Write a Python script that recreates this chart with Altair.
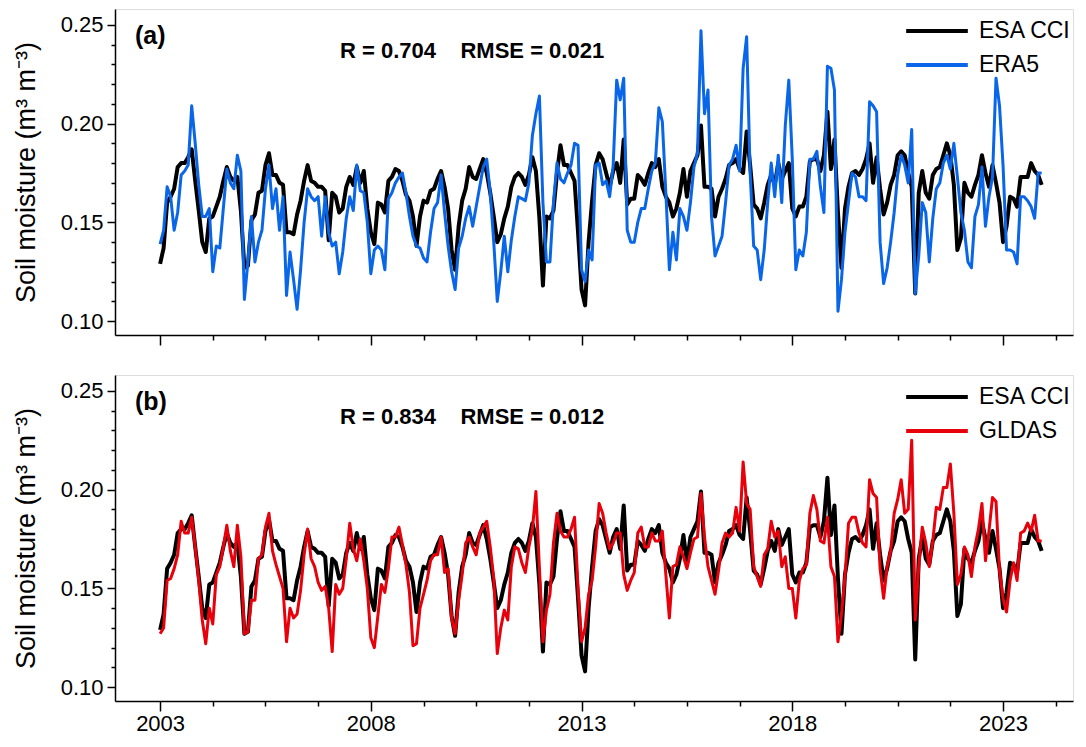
import altair as alt
import pandas as pd

# Monthly series, Jan 2003 - Dec 2023 (m3 m-3)
esa_cci = [0.129,0.137,0.160,0.163,0.167,0.178,0.180,0.180,0.183,0.187,0.171,0.156,
0.140,0.135,0.152,0.153,0.158,0.163,0.171,0.178,0.173,0.171,0.173,0.156,
0.127,0.128,0.151,0.154,0.165,0.166,0.179,0.185,0.174,0.174,0.170,0.169,
0.145,0.145,0.144,0.154,0.161,0.171,0.179,0.171,0.170,0.168,0.168,0.166,
0.141,0.165,0.163,0.155,0.157,0.168,0.173,0.169,0.178,0.170,0.176,0.157,
0.145,0.139,0.160,0.159,0.155,0.171,0.173,0.177,0.176,0.171,0.164,0.161,
0.153,0.138,0.153,0.161,0.160,0.166,0.167,0.172,0.176,0.168,0.157,0.136,
0.126,0.148,0.161,0.167,0.178,0.173,0.172,0.177,0.182,0.175,0.165,0.153,
0.140,0.144,0.152,0.158,0.168,0.173,0.175,0.173,0.169,0.174,0.183,0.176,
0.152,0.118,0.153,0.152,0.156,0.175,0.189,0.179,0.179,0.175,0.171,0.145,
0.116,0.108,0.140,0.161,0.179,0.185,0.182,0.175,0.168,0.176,0.180,0.170,
0.192,0.159,0.162,0.162,0.174,0.172,0.169,0.175,0.180,0.178,0.182,0.168,
0.163,0.160,0.153,0.157,0.165,0.177,0.163,0.176,0.180,0.184,0.199,0.168,
0.168,0.167,0.153,0.163,0.167,0.172,0.179,0.180,0.182,0.177,0.175,0.196,
0.179,0.159,0.157,0.152,0.160,0.169,0.174,0.169,0.180,0.172,0.176,0.180,
0.157,0.153,0.158,0.158,0.163,0.181,0.182,0.182,0.176,0.184,0.206,0.177,
0.192,0.155,0.127,0.157,0.168,0.175,0.176,0.174,0.177,0.182,0.190,0.170,
0.183,0.167,0.154,0.160,0.169,0.174,0.184,0.186,0.184,0.175,0.168,0.114,
0.165,0.176,0.165,0.162,0.174,0.177,0.178,0.184,0.190,0.184,0.169,0.136,
0.142,0.170,0.165,0.163,0.169,0.174,0.184,0.175,0.168,0.179,0.170,0.160,
0.140,0.148,0.163,0.162,0.158,0.173,0.173,0.173,0.180,0.176,0.174,0.169]

era5 = [0.139,0.146,0.168,0.163,0.146,0.155,0.174,0.176,0.179,0.209,0.190,0.169,
0.153,0.153,0.157,0.125,0.138,0.137,0.157,0.177,0.170,0.167,0.184,0.176,
0.111,0.130,0.153,0.130,0.140,0.146,0.167,0.179,0.157,0.167,0.146,0.163,
0.113,0.135,0.121,0.106,0.126,0.150,0.167,0.163,0.161,0.163,0.143,0.163,
0.145,0.138,0.140,0.124,0.135,0.152,0.163,0.156,0.179,0.166,0.165,0.150,
0.124,0.136,0.138,0.136,0.126,0.162,0.165,0.170,0.173,0.175,0.165,0.153,
0.143,0.138,0.137,0.132,0.130,0.145,0.157,0.160,0.174,0.155,0.138,0.125,
0.116,0.137,0.143,0.152,0.158,0.148,0.158,0.168,0.178,0.182,0.165,0.140,
0.110,0.125,0.143,0.125,0.141,0.153,0.163,0.162,0.161,0.170,0.194,0.205,
0.214,0.160,0.130,0.130,0.160,0.180,0.172,0.170,0.175,0.179,0.190,0.189,
0.126,0.120,0.136,0.131,0.179,0.180,0.169,0.171,0.163,0.179,0.222,0.212,
0.223,0.146,0.140,0.140,0.150,0.157,0.157,0.167,0.176,0.180,0.208,0.201,
0.165,0.126,0.145,0.131,0.157,0.153,0.146,0.160,0.178,0.185,0.247,0.205,
0.217,0.153,0.133,0.138,0.143,0.160,0.179,0.182,0.189,0.176,0.228,0.244,
0.175,0.138,0.136,0.121,0.136,0.160,0.180,0.163,0.184,0.160,0.199,0.222,
0.182,0.126,0.136,0.133,0.145,0.182,0.182,0.186,0.168,0.155,0.229,0.228,
0.217,0.105,0.121,0.145,0.160,0.175,0.173,0.163,0.163,0.161,0.211,0.209,
0.206,0.140,0.119,0.127,0.140,0.155,0.174,0.184,0.179,0.170,0.197,0.114,
0.133,0.160,0.155,0.130,0.152,0.167,0.170,0.180,0.184,0.177,0.190,0.173,
0.155,0.146,0.130,0.127,0.153,0.159,0.178,0.148,0.163,0.173,0.223,0.209,
0.179,0.136,0.136,0.135,0.129,0.163,0.163,0.161,0.158,0.152,0.175,0.175]

gldas = [0.127,0.130,0.154,0.155,0.160,0.167,0.184,0.178,0.178,0.186,0.171,0.154,
0.134,0.122,0.140,0.132,0.157,0.161,0.171,0.182,0.169,0.161,0.182,0.166,
0.127,0.128,0.144,0.144,0.165,0.167,0.181,0.188,0.169,0.162,0.156,0.150,
0.123,0.140,0.135,0.137,0.149,0.167,0.180,0.165,0.161,0.153,0.149,0.151,
0.140,0.118,0.152,0.147,0.150,0.165,0.183,0.170,0.164,0.175,0.164,0.150,
0.125,0.120,0.136,0.152,0.148,0.160,0.176,0.176,0.181,0.172,0.162,0.148,
0.121,0.122,0.140,0.147,0.154,0.164,0.167,0.167,0.176,0.158,0.160,0.135,
0.127,0.144,0.157,0.173,0.176,0.171,0.167,0.178,0.181,0.184,0.171,0.155,
0.117,0.130,0.139,0.134,0.161,0.171,0.170,0.163,0.158,0.171,0.180,0.199,
0.160,0.123,0.139,0.147,0.173,0.188,0.179,0.176,0.176,0.180,0.186,0.150,
0.123,0.130,0.147,0.154,0.171,0.193,0.188,0.178,0.170,0.173,0.178,0.178,
0.157,0.149,0.154,0.158,0.178,0.181,0.171,0.171,0.178,0.174,0.174,0.179,
0.157,0.135,0.161,0.162,0.171,0.166,0.160,0.168,0.175,0.176,0.198,0.176,
0.161,0.154,0.147,0.159,0.173,0.178,0.176,0.178,0.191,0.179,0.214,0.193,
0.190,0.161,0.156,0.151,0.167,0.170,0.184,0.176,0.179,0.161,0.166,0.150,
0.150,0.135,0.154,0.160,0.162,0.188,0.197,0.190,0.174,0.173,0.186,0.161,
0.156,0.123,0.137,0.156,0.183,0.186,0.186,0.178,0.173,0.171,0.205,0.198,
0.196,0.160,0.145,0.161,0.169,0.188,0.195,0.205,0.188,0.190,0.225,0.134,
0.161,0.181,0.173,0.161,0.174,0.191,0.190,0.201,0.201,0.213,0.188,0.152,
0.157,0.171,0.167,0.156,0.171,0.180,0.193,0.164,0.179,0.196,0.194,0.159,
0.145,0.138,0.154,0.163,0.154,0.178,0.179,0.183,0.179,0.187,0.174,0.174]

start_year = 2003
NB = "\u00a0"
stats_a = "R = 0.704" + NB * 4 + "RMSE = 0.021"
stats_b = "R = 0.834" + NB * 4 + "RMSE = 0.012"
x_tick_values = [2003 + 1.25 * k for k in range(18)]
y_tick_values = [round(0.10 + 0.01 * k, 2) for k in range(16)]

FONT = "Liberation Sans"
BLUE = "#0A66E8"
RED = "#E8000B"
W, H = 958, 326

t = [start_year + i / 12 for i in range(len(esa_cci))]


def frame(name, vals):
    return pd.DataFrame({"t": t, "v": vals, "s": name})


x_scale = alt.Scale(domain=[2001.93, 2024.66], nice=False, zero=False)
y_scale = alt.Scale(domain=[0.093, 0.258], nice=False, zero=False)

major_y = "abs(datum.value * 20 - round(datum.value * 20)) < 0.001"


def x_axis(labels):
    kw = dict(
        values=x_tick_values, tickSize=10, tickWidth=1.5, tickColor="black",
        tickDash={"condition": {"test": "datum.value % 5 != 3", "value": [5, 100]},
                  "value": [20, 0]},
        domainColor="black", domainWidth=1.5, grid=False, title=None,
        labelFont=FONT, labelFontSize=22, labelColor="black", labelPadding=2,
    )
    if labels:
        kw["labelExpr"] = "datum.value % 5 == 3 ? format(datum.value, 'd') : ''"
    else:
        kw["labels"] = False
    return alt.Axis(**kw)


y_axis = alt.Axis(
    values=y_tick_values, tickSize=8, tickWidth=1.5, tickColor="black",
    tickDash={"condition": {"test": "!(" + major_y + ")", "value": [4, 100]},
              "value": [20, 0]},
    labelExpr=major_y + " ? format(datum.value, '.2f') : ''",
    domainColor="black", domainWidth=1.5, grid=False,
    labelFont=FONT, labelFontSize=22, labelColor="black", labelPadding=4,
    title="Soil moisture (m³ m⁻³)", titleFont=FONT, titleFontSize=27,
    titleFontWeight="normal", titleColor="black", titlePadding=20,
)


def panel(tag, other_name, other_vals, other_color, stats, labels):
    color = alt.Color(
        "s:N",
        scale=alt.Scale(domain=["ESA CCI", other_name], range=["#000000", other_color]),
        legend=alt.Legend(
            orient="none", legendX=789, legendY=10, title=None,
            symbolType="stroke", symbolSize=3800, symbolStrokeWidth=4,
            clipHeight=24,
            labelFont=FONT, labelFontSize=23, labelColor="black",
            labelOffset=9, rowPadding=10, padding=0,
        ),
    )
    enc = dict(
        x=alt.X("t:Q", scale=x_scale, axis=x_axis(labels)),
        y=alt.Y("v:Q", scale=y_scale, axis=y_axis),
        color=color,
    )
    base_line = alt.Chart(frame("ESA CCI", esa_cci)).mark_line(
        strokeWidth=4, strokeJoin="round", clip=True).encode(**enc)
    other_line = alt.Chart(frame(other_name, other_vals)).mark_line(
        strokeWidth=3, strokeJoin="round", clip=True).encode(**enc)
    tag_text = alt.Chart(pd.DataFrame({"label": [tag]})).mark_text(
        font=FONT, fontSize=25, fontWeight="bold", align="left", baseline="alphabetic",
        color="black").encode(text="label:N", x=alt.value(20), y=alt.value(35))
    stats_text = alt.Chart(pd.DataFrame({"label": [stats]})).mark_text(
        font=FONT, fontSize=22, fontWeight="bold", align="left", baseline="alphabetic",
        color="black").encode(text="label:N", x=alt.value(225), y=alt.value(49))
    return alt.layer(base_line, other_line, tag_text, stats_text).properties(width=W, height=H)


top = panel("(a)", "ERA5", era5, BLUE, stats_a, labels=False)
bottom = panel("(b)", "GLDAS", gldas, RED, stats_b, labels=True)

chart = alt.vconcat(top, bottom, spacing=27).resolve_scale(
    color="independent").resolve_legend(color="independent").properties(
    padding={"left": 11, "top": 8, "right": 5, "bottom": 5}
).configure_view(stroke="black", strokeWidth=1.5).configure(background="white")

chart.save("out.html", embed_options={"renderer": "svg", "actions": False})
